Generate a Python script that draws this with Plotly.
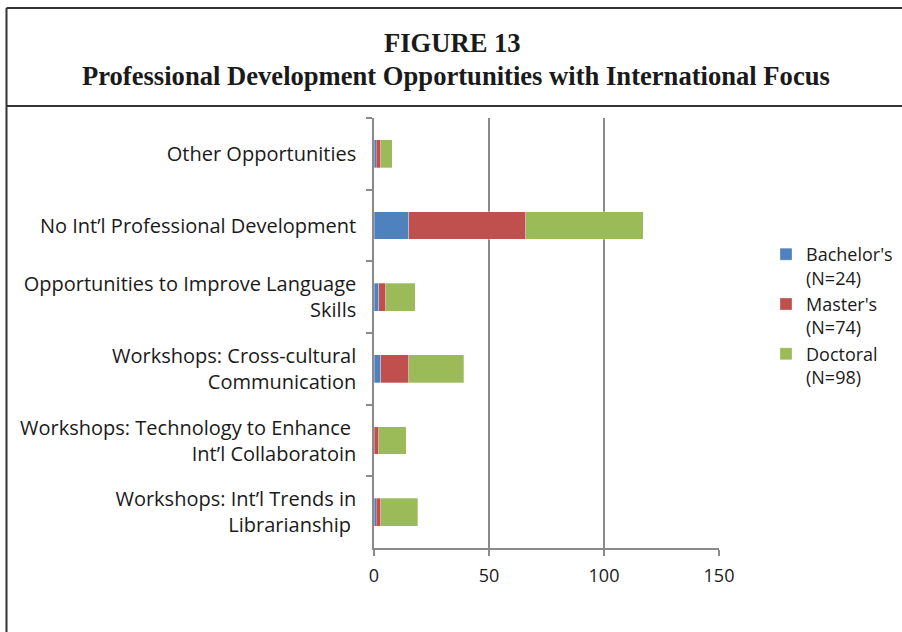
import plotly.graph_objects as go

categories = [
    "Other Opportunities",
    "No Int\u2019l Professional Development",
    "Opportunities to Improve Language<br>Skills",
    "Workshops: Cross-cultural<br>Communication",
    "Workshops: Technology to Enhance\u00a0<br>Int\u2019l Collaboratoin",
    "Workshops: Int\u2019l Trends in<br>Librarianship\u00a0",
]
bachelors = [1, 15, 2, 3, 0, 1]
masters = [2, 51, 3, 12, 2, 2]
doctoral = [5, 51, 13, 24, 12, 16]
series_names = ["Bachelor's<br>(N=24)", "Master's<br>(N=74)", "Doctoral<br>(N=98)"]
colors = ["#4F81BD", "#C0504D", "#9BBB59"]
x_ticks = [0, 50, 100, 150]

W, H = 902, 632
L, R, T, B = 374, 719, 118, 548


def px(x):
    return (x - L) / (R - L)


def py(y):
    return (B - y) / (B - T)


fig = go.Figure()
for name, vals, col in zip(series_names, [bachelors, masters, doctoral], colors):
    fig.add_trace(go.Bar(
        y=categories, x=vals, name=name, orientation="h",
        marker=dict(color=col, line=dict(color="rgba(255,255,255,0.6)", width=0.5)),
    ))

font_family = "Open Sans, Noto Sans, sans-serif"
fig.update_layout(
    width=W, height=H, autosize=False,
    barmode="stack", bargap=0.61,
    margin=dict(l=L, r=W - R, t=T, b=H - B, pad=0),
    paper_bgcolor="white", plot_bgcolor="white",
    font=dict(family=font_family, size=18, color="#1a1a1a"),
    showlegend=True,
    legend=dict(
        xref="container", yref="container",
        x=898 / W, y=(H - 236) / H, xanchor="right", yanchor="top",
        font=dict(size=18, family=font_family, color="#1a1a1a"),
        valign="top", traceorder="normal", itemwidth=30,
        tracegroupgap=0, bgcolor="rgba(0,0,0,0)",
    ),
    xaxis=dict(
        range=[0, 150], tickvals=x_ticks, ticktext=[str(v) for v in x_ticks],
        showgrid=True, gridcolor="#8a8a8a", gridwidth=1.5,
        showline=True, linecolor="#8a8a8a", linewidth=1.5,
        ticks="outside", ticklen=6, tickcolor="#8a8a8a", tickwidth=1.5,
        zeroline=False, fixedrange=True, ticklabelstandoff=5,
        tickfont=dict(size=18, color="#1a1a1a"),
    ),
    yaxis=dict(
        categoryorder="array", categoryarray=categories, autorange="reversed",
        showline=True, linecolor="#8a8a8a", linewidth=1.5,
        ticks="outside", ticklen=6, tickcolor="#8a8a8a", tickwidth=1.5,
        tickson="boundaries", showgrid=False, fixedrange=True,
        ticklabelstandoff=12,
        tickfont=dict(size=20, color="#1a1a1a"),
    ),
)

# frame lines
frame_col = "#333333"
fig.add_shape(type="line", xref="paper", yref="paper", x0=px(6.5), x1=px(W + 2),
              y0=py(8), y1=py(8), line=dict(color=frame_col, width=2))
fig.add_shape(type="line", xref="paper", yref="paper", x0=px(6.5), x1=px(W + 2),
              y0=py(106), y1=py(106), line=dict(color=frame_col, width=2))
fig.add_shape(type="line", xref="paper", yref="paper", x0=px(6.5), x1=px(6.5),
              y0=py(8), y1=py(H + 2), line=dict(color=frame_col, width=2))

title_font = dict(family="Liberation Serif, Times New Roman, serif", size=26.6, color="#1a1a1a")
fig.add_annotation(text="<b>FIGURE 13</b>", xref="paper", yref="paper",
                   x=px(452), y=py(43), showarrow=False, font=title_font,
                   xanchor="center", yanchor="middle")
fig.add_annotation(text="<b>Professional Development Opportunities with International Focus</b>",
                   xref="paper", yref="paper", x=px(456), y=py(76), showarrow=False,
                   font=title_font, xanchor="center", yanchor="middle")

post = (
    "document.body.style.margin='0px'; document.body.style.overflow='hidden';"
)

fig.write_html(
    "out.html",
    config={"responsive": False, "displayModeBar": False},
    post_script=post,
)
